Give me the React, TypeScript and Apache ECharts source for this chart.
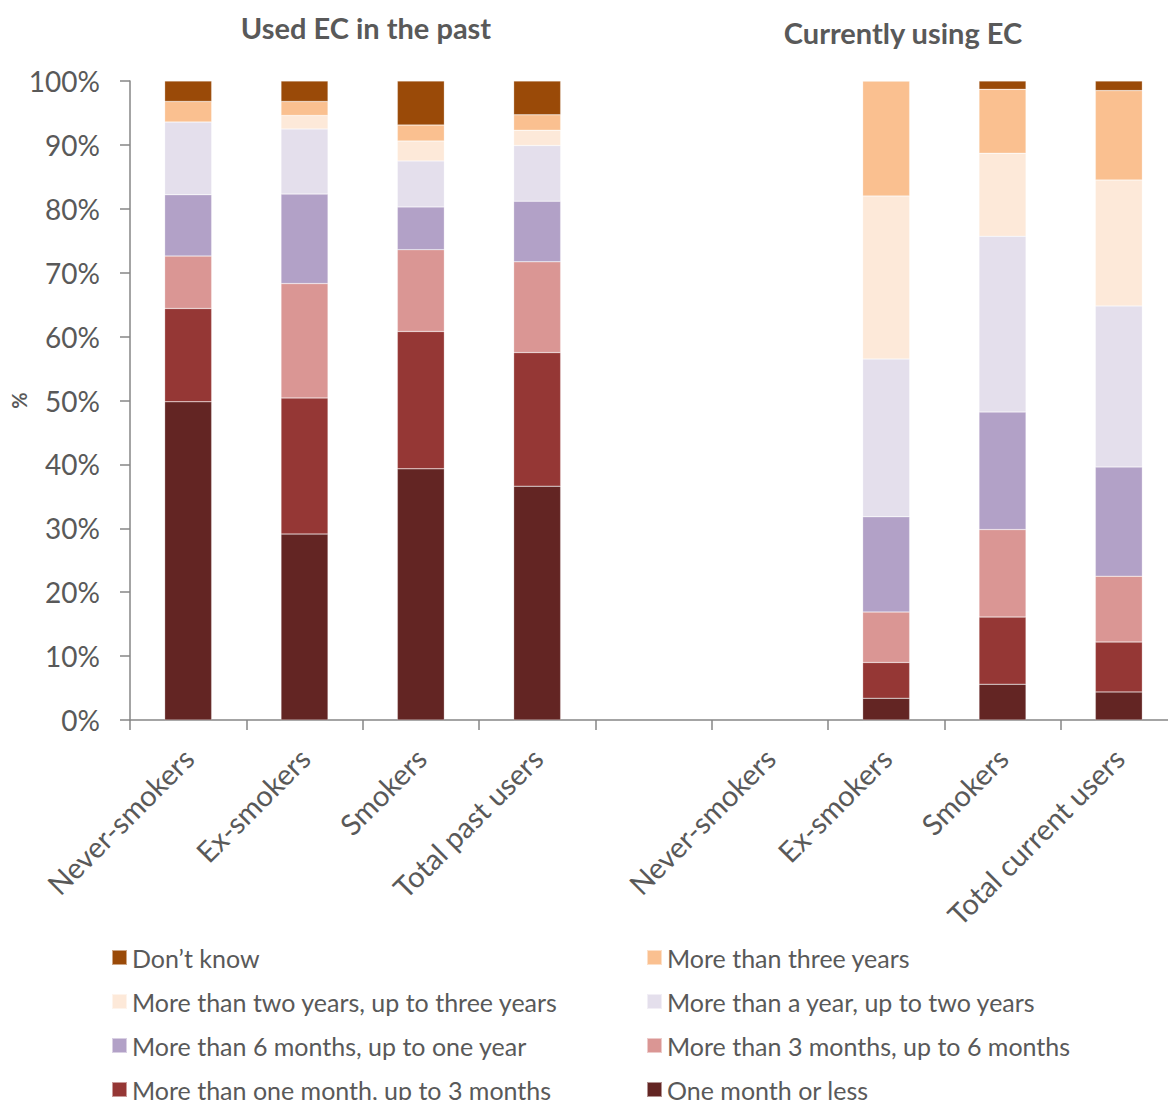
import React, { useEffect, useRef } from "react";
import * as echarts from "echarts";

const categories = [
  "Never-smokers",
  "Ex-smokers",
  "Smokers",
  "Total past users",
  "",
  "Never-smokers",
  "Ex-smokers",
  "Smokers",
  "Total current users",
];

const yTicks = [0, 10, 20, 30, 40, 50, 60, 70, 80, 90, 100];

const seriesNames = [
  "One month or less",
  "More than one month, up to 3 months",
  "More than 3 months, up to 6 months",
  "More than 6 months, up to one year",
  "More than a year, up to two years",
  "More than two years, up to three years",
  "More than three years",
  "Don\u2019t know",
];

const oneMonthOrLess = [49.8, 29.1, 39.3, 36.6, null, null, 3.4, 5.6, 4.4];
const oneToThreeMonths = [14.6, 21.3, 21.5, 20.9, null, null, 5.6, 10.5, 7.8];
const threeToSixMonths = [8.2, 17.9, 12.8, 14.2, null, null, 7.9, 13.7, 10.3];
const sixMonthsToYear = [9.6, 14.0, 6.7, 9.5, null, null, 14.9, 18.4, 17.1];
const yearToTwoYears = [11.4, 10.2, 7.2, 8.7, null, null, 24.7, 27.5, 25.2];
const twoToThreeYears = [0, 2.1, 3.1, 2.4, null, null, 25.5, 13.0, 19.7];
const moreThanThreeYears = [3.2, 2.2, 2.5, 2.4, null, null, 18.0, 10.0, 14.0];
const dontKnow = [3.2, 3.2, 6.9, 5.3, null, null, 0, 1.3, 1.5];

const seriesValues = [
  oneMonthOrLess,
  oneToThreeMonths,
  threeToSixMonths,
  sixMonthsToYear,
  yearToTwoYears,
  twoToThreeYears,
  moreThanThreeYears,
  dontKnow,
];

const seriesColors = [
  "#632523",
  "#953735",
  "#DA9694",
  "#B2A1C7",
  "#E4DFEC",
  "#FDE9D9",
  "#FAC090",
  "#9A4A08",
];

const legendLeftColumn = [
  "Don\u2019t know",
  "More than two years, up to three years",
  "More than 6 months, up to one year",
  "More than one month, up to 3 months",
];
const legendRightColumn = [
  "More than three years",
  "More than a year, up to two years",
  "More than 3 months, up to 6 months",
  "One month or less",
];

const FONT = "Lato, 'Open Sans', sans-serif";
const TEXT = "#595959";
const AXIS = "#868686";

export default function App() {
  const ref = useRef<HTMLDivElement>(null);

  useEffect(() => {
    if (!ref.current) return;
    const chart = echarts.init(ref.current, undefined, { renderer: "svg" });

    const legendCommon = {
      orient: "vertical" as const,
      icon: "rect",
      itemWidth: 15,
      itemHeight: 15,
      itemGap: 19,
      padding: 0,
      selectedMode: false,
      textStyle: { fontFamily: FONT, fontSize: 25, color: TEXT, lineHeight: 25 },
    };

    chart.setOption({
      animation: false,
      backgroundColor: "#ffffff",
      textStyle: { fontFamily: FONT },
      title: [
        {
          text: "Used EC in the past",
          left: 361,
          top: 8,
          textAlign: "center",
          textStyle: { fontFamily: FONT, fontSize: 29, fontWeight: "bold", color: TEXT },
        },
        {
          text: "Currently using EC",
          left: 898,
          top: 13,
          textAlign: "center",
          textStyle: { fontFamily: FONT, fontSize: 29, fontWeight: "bold", color: TEXT },
        },
      ],
      legend: [
        { ...legendCommon, left: 111, top: 945, data: legendLeftColumn },
        { ...legendCommon, left: 646, top: 945, data: legendRightColumn },
      ],
      grid: {
        left: 130,
        top: 81,
        width: 1047,
        height: 639,
        containLabel: false,
        outerBoundsMode: "none",
      },
      xAxis: {
        type: "category",
        data: categories,
        axisLine: { show: true, lineStyle: { color: AXIS, width: 1.5 } },
        axisTick: { show: true, length: 10, lineStyle: { color: AXIS, width: 1.5 } },
        axisLabel: {
          rotate: 45,
          interval: 0,
          margin: 33,
          fontFamily: FONT,
          fontSize: 29,
          color: TEXT,
        },
      },
      yAxis: {
        type: "value",
        min: yTicks[0],
        max: yTicks[yTicks.length - 1],
        interval: 10,
        name: "%",
        nameLocation: "middle",
        nameRotate: 90,
        nameGap: 101,
        nameMoveOverlap: false,
        nameTextStyle: { fontFamily: FONT, fontSize: 20, fontWeight: "bold", color: TEXT },
        splitLine: { show: false },
        axisLine: { show: true, lineStyle: { color: AXIS, width: 1.5 } },
        axisTick: { show: true, length: 10, lineStyle: { color: AXIS, width: 1.5 } },
        axisLabel: {
          margin: 30,
          fontFamily: FONT,
          fontSize: 28,
          color: TEXT,
          formatter: "{value}%",
        },
      },
      series: seriesNames.map((name, i) => ({
        name,
        type: "bar",
        stack: "total",
        barWidth: 47,
        data: seriesValues[i],
        itemStyle: {
          color: seriesColors[i],
          borderColor: "rgba(255,255,255,0.5)",
          borderWidth: 0.5,
        },
      })),
    });

    return () => chart.dispose();
  }, []);

  return (
    <div
      ref={ref}
      style={{ position: "fixed", left: 0, top: 0, width: 1168, height: 1130 }}
    />
  );
}
